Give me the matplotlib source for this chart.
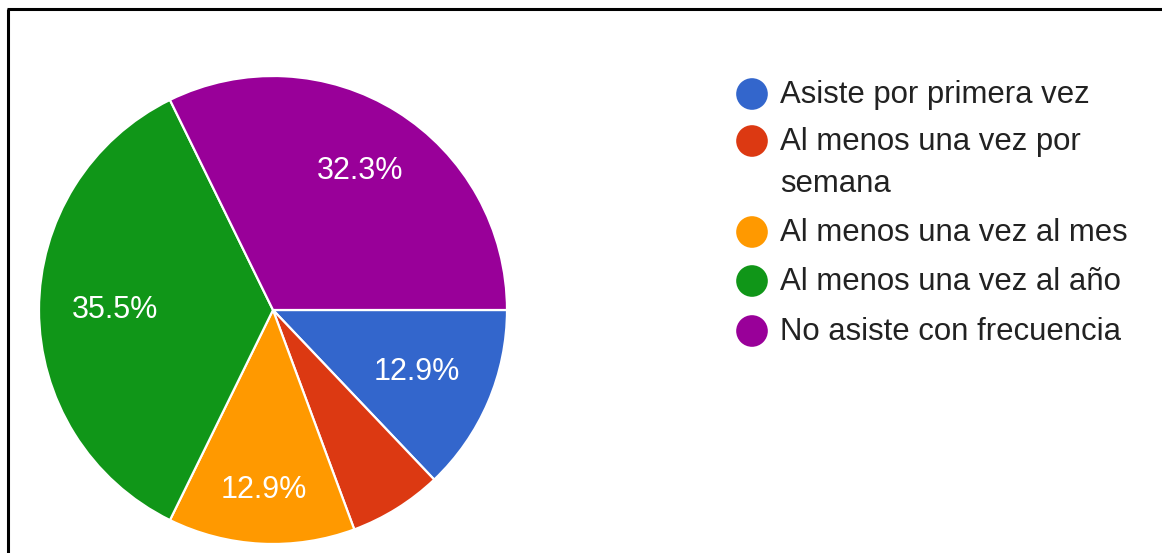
"""Pie chart of attendance frequency (Google Forms style)."""

import matplotlib

matplotlib.use("Agg")
import matplotlib.pyplot as plt
import numpy as np

categories = [
    "Asiste por primera vez",
    "Al menos una vez por\nsemana",
    "Al menos una vez al mes",
    "Al menos una vez al año",
    "No asiste con frecuencia",
]
counts = [4, 2, 4, 11, 10]
colors = ["#3366CC", "#DC3912", "#FF9900", "#109618", "#990099"]
# radial position of the percentage label, as a fraction of the radius
label_radius = [0.67, 0.70, 0.77, 0.675, 0.70]

W, H = 1162, 553
plt.rcParams["font.family"] = ["Liberation Sans", "DejaVu Sans"]

fig = plt.figure(figsize=(W / 100, H / 100), dpi=100)
ax = fig.add_axes([0, 0, 1, 1])

cx, cy, radius = 273, H - 310, 234
wedges, _ = ax.pie(
    counts,
    colors=colors,
    startangle=0,
    counterclock=False,
    center=(cx, cy),
    radius=radius,
    frame=True,
    wedgeprops={"edgecolor": "white", "linewidth": 1.6},
)
ax.set_xlim(0, W)
ax.set_ylim(0, H)
ax.axis("off")

total = sum(counts)
for wedge, count, frac in zip(wedges, counts, label_radius):
    pct = 100 * count / total
    if pct < 10:
        continue
    mid = np.deg2rad((wedge.theta1 + wedge.theta2) / 2)
    ax.text(
        cx + frac * radius * np.cos(mid),
        cy + frac * radius * np.sin(mid),
        f"{pct:.1f}%",
        color="white",
        fontsize=22,
        ha="center",
        va="center",
    )

# legend drawn by hand to match the Google Charts layout
legend_y = [94, 141, 232, 281, 331]
line_step = 42
for name, color, y in zip(categories, colors, legend_y):
    ax.scatter([752], [H - y], s=31 ** 2 * 0.54, color=color, edgecolors="none")
    for i, line in enumerate(name.split("\n")):
        ax.text(
            780,
            H - y - 9 - i * line_step,
            line,
            color="#222222",
            fontsize=22.4,
            ha="left",
            va="baseline",
        )

# frame of the screenshot (top and left edges only)
ax.plot([7, W], [H - 9, H - 9], color="black", linewidth=2.2, solid_capstyle="butt")
ax.plot([8, 8], [H - 9, 0], color="black", linewidth=2.2, solid_capstyle="butt")

fig.savefig("out.png", dpi=100)
